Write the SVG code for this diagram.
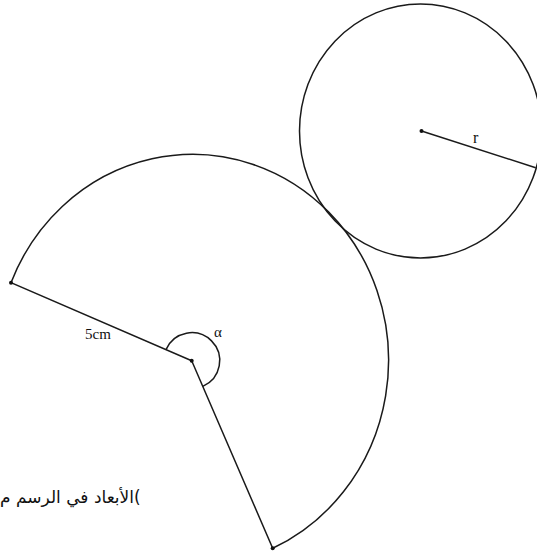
<svg xmlns="http://www.w3.org/2000/svg" width="537" height="554" viewBox="0 0 537 554">
<style>
.ln{fill:none;stroke:#1a1a1a;stroke-width:1.5}
.dot{fill:#111}
.lbl{font-family:"Liberation Serif","Times New Roman",serif;fill:#111}
.ar{font-family:"DejaVu Sans","Noto Sans",sans-serif;fill:#111}
</style>
<rect width="537" height="554" fill="#fff"/>
<g id="sector">
<path class="ln" d="M191.7 360.7 L11 282.7 A196 206 0 1 1 272.7 548.3 Z"/>
<path class="ln" d="M166 349.6 A28 28 0 1 1 202.8 386.4"/>
<circle class="dot" cx="191.7" cy="360.7" r="2"/>
<circle class="dot" cx="11" cy="282.7" r="2"/>
<circle class="dot" cx="272.7" cy="548.3" r="2"/>
</g>
<g id="circle">
<ellipse class="ln" cx="420.5" cy="131" rx="121" ry="127"/>
<line class="ln" x1="421.5" y1="131" x2="535.7" y2="167.7"/>
<circle class="dot" cx="421.5" cy="131" r="2"/>
</g>
<g id="labels">
<text class="lbl" x="85" y="339" font-size="15">5cm</text>
<text class="lbl" x="214" y="337" font-size="15">α</text>
<text class="lbl" x="473" y="143" font-size="16">r</text>
<text class="ar" y="503" font-size="17"><tspan x="134">(</tspan><tspan x="134" text-anchor="end">الأبعاد في الرسم م</tspan></text>
</g>
</svg>
